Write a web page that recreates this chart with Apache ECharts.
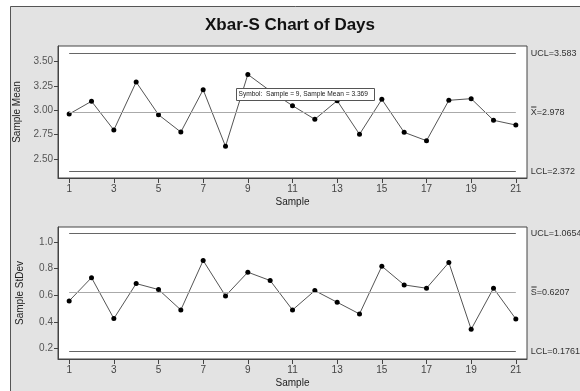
<!DOCTYPE html>
<html>
<head>
<meta charset="utf-8">
<script src="https://cdn.jsdelivr.net/npm/echarts@6/dist/echarts.min.js"></script>
<style>
  html, body { margin: 0; padding: 0; background: #fff; }
  #chart { width: 580px; height: 391px; }
</style>
</head>
<body>
<div id="chart"></div>
<script>
// samples 1..21
var samples = ['1','2','3','4','5','6','7','8','9','10','11','12','13','14','15','16','17','18','19','20','21'];

var sampleMean = [2.962, 3.093, 2.798, 3.291, 2.955, 2.777, 3.212, 2.630, 3.369, 3.200, 3.048,
                  2.908, 3.099, 2.754, 3.113, 2.774, 2.688, 3.103, 3.120, 2.898, 2.849];
var sampleStDev = [0.557, 0.733, 0.424, 0.688, 0.643, 0.489, 0.862, 0.595, 0.774, 0.711, 0.489,
                   0.635, 0.547, 0.459, 0.819, 0.678, 0.653, 0.847, 0.343, 0.653, 0.421];

// control limits
var meanLimits = { ucl: 3.583, center: 2.978, lcl: 2.372 };
var sdLimits = { ucl: 1.0654, center: 0.6207, lcl: 0.1761 };

var meanTicks = [2.5, 2.75, 3.0, 3.25, 3.5];
var sdTicks = [0.2, 0.4, 0.6, 0.8, 1.0];

var chart = echarts.init(document.getElementById('chart'));
var font = 'Liberation Sans';

function limitLine(v, text, color) {
  return [
    { coord: ['1', v], lineStyle: { color: color }, label: { formatter: text } },
    { coord: ['21', v] }
  ];
}

function xAxisFor(idx) {
  return {
    type: 'category',
    gridIndex: idx,
    data: samples,
    boundaryGap: true,
    name: 'Sample',
    nameLocation: 'middle',
    nameGap: 19,
    nameTextStyle: { color: '#222', fontSize: 10, fontFamily: font },
    axisLine: { show: true, lineStyle: { color: '#444' } },
    axisTick: { show: true, alignWithLabel: true, interval: 1, length: 5, lineStyle: { color: '#444' } },
    axisLabel: { interval: 1, color: '#444', fontSize: 10, fontFamily: font, margin: 6 },
    splitLine: { show: false }
  };
}

function yAxisFor(idx, name, min, max, ticks, dec) {
  return {
    type: 'value',
    gridIndex: idx,
    min: min,
    max: max,
    name: name,
    nameLocation: 'middle',
    nameRotate: 90,
    nameGap: 33,
    nameTextStyle: { color: '#222', fontSize: 10, fontFamily: font },
    axisLine: { show: true, lineStyle: { color: '#444' } },
    axisTick: { show: true, length: 4, customValues: ticks, lineStyle: { color: '#444' } },
    axisLabel: {
      customValues: ticks, color: '#555', fontSize: 10, fontFamily: font, margin: 5,
      formatter: function (v) { return v.toFixed(dec); }
    },
    splitLine: { show: false }
  };
}

function seriesFor(idx, data, lim, centerText) {
  return {
    type: 'line',
    xAxisIndex: idx,
    yAxisIndex: idx,
    data: data,
    symbol: 'circle',
    symbolSize: 5,
    itemStyle: { color: '#000' },
    lineStyle: { color: '#555', width: 1 },
    animation: false,
    markLine: {
      silent: true,
      symbol: 'none',
      animation: false,
      lineStyle: { type: 'solid', width: 1 },
      label: { position: 'end', distance: 15, color: '#333', fontSize: 9, fontFamily: font, align: 'left' },
      data: [
        limitLine(lim.ucl, 'UCL=' + lim.ucl, '#666'),
        limitLine(lim.center, centerText + '=' + lim.center, '#aaa'),
        limitLine(lim.lcl, 'LCL=' + lim.lcl, '#666')
      ]
    }
  };
}

chart.setOption({
  animation: false,
  backgroundColor: '#fff',
  title: {
    text: 'Xbar-S Chart of Days',
    left: 'center',
    top: 12,
    textStyle: { fontSize: 17, fontWeight: 'bold', color: '#111', fontFamily: font }
  },
  graphic: [
    {
      type: 'rect', z: -10, silent: true,
      shape: { x: 10.5, y: 6.5, width: 600, height: 420 },
      style: { fill: '#e3e3e3', stroke: '#555', lineWidth: 1 }
    },
    {
      type: 'rect', z: 100, silent: true,
      shape: { x: 236.5, y: 88.5, width: 138, height: 12 },
      style: { fill: '#fff', stroke: '#555', lineWidth: 1 }
    },
    {
      type: 'text', z: 101, silent: true, x: 238.5, y: 91,
      style: { text: 'Symbol:  Sample = 9, Sample Mean = 3.369', fontSize: 6.6, fontFamily: font, fill: '#222' }
    }
  ],
  grid: [
    { left: 58, right: 53, top: 46, height: 132, show: true, backgroundColor: '#fff', borderColor: '#444', borderWidth: 1 },
    { left: 58, right: 53, top: 227, height: 132, show: true, backgroundColor: '#fff', borderColor: '#444', borderWidth: 1 }
  ],
  xAxis: [xAxisFor(0), xAxisFor(1)],
  yAxis: [
    yAxisFor(0, 'Sample Mean', 2.305, 3.661, meanTicks, 2),
    yAxisFor(1, 'Sample StDev', 0.119, 1.115, sdTicks, 1)
  ],
  series: [
    seriesFor(0, sampleMean, meanLimits, 'X\u033F'),
    seriesFor(1, sampleStDev, sdLimits, 'S\u033F')
  ]
});
</script>
</body>
</html>
